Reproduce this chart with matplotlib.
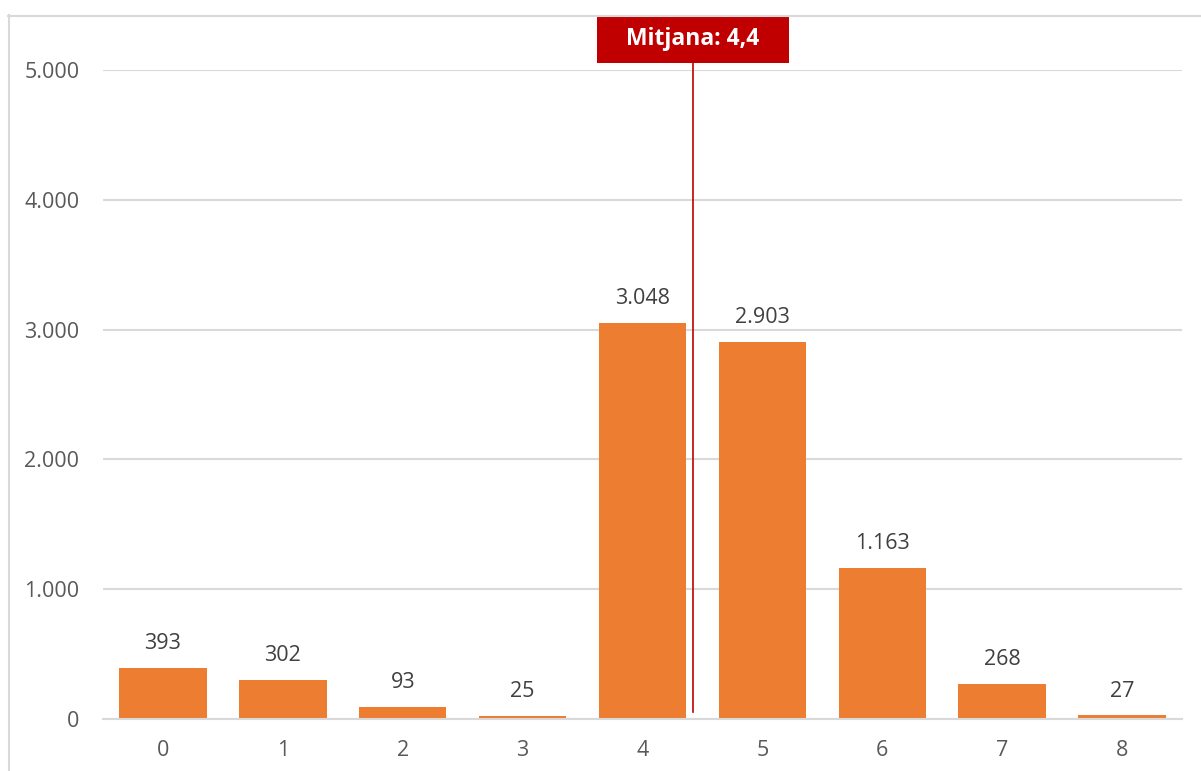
import matplotlib.pyplot as plt
from matplotlib.lines import Line2D
from matplotlib.patches import Rectangle
from matplotlib.ticker import FuncFormatter

# Distribució de respostes (escala 0-8)
categories = [0, 1, 2, 3, 4, 5, 6, 7, 8]
counts = [393, 302, 93, 25, 3048, 2903, 1163, 268, 27]

mean_value = sum(c * n for c, n in zip(categories, counts)) / sum(counts)


def fmt_thousands(v):
    return f"{int(v):,}".replace(",", ".")


plt.rcParams['font.family'] = ['Open Sans', 'DejaVu Sans']

W, H = 1201, 771
fig = plt.figure(figsize=(W / 100, H / 100), dpi=100)
ax = fig.add_axes([103 / W, 1 - 719 / H, (1182 - 103) / W, (719 - 70) / H])

bar_color = '#ED7D31'
grid_color = '#D9D9D9'

ax.bar(categories, counts, width=0.73, color=bar_color, zorder=2)

for x, v in zip(categories, counts):
    ax.annotate(fmt_thousands(v), (x, v), xytext=(0, 10), textcoords='offset points',
                ha='center', va='bottom', fontsize=15.5, color='#404040')

ax.set_xlim(-0.5, 8.5)
ax.set_ylim(0, 5000)
ax.set_yticks(range(0, 5001, 1000))
ax.yaxis.set_major_formatter(FuncFormatter(lambda v, p: fmt_thousands(v)))
ax.set_xticks(categories)
ax.tick_params(axis='both', length=0, labelsize=15.5, labelcolor='#595959')
ax.tick_params(axis='y', pad=17)
ax.tick_params(axis='x', pad=15)

ax.grid(axis='y', color=grid_color, linewidth=1.5, zorder=0)
for side in ['top', 'right', 'left']:
    ax.spines[side].set_visible(False)
ax.spines['bottom'].set_color(grid_color)
ax.spines['bottom'].set_linewidth(1.5)

# línia de la mitjana amb etiqueta
mean_color = '#C00000'
ax.plot([mean_value, mean_value], [55, 5060], color=mean_color, linewidth=1.2,
        zorder=3, clip_on=False)
box_w, box_h, box_y = 1.6, 370, 5055
ax.add_patch(Rectangle((mean_value - box_w / 2, box_y), box_w, box_h,
                       facecolor=mean_color, edgecolor='none', zorder=4, clip_on=False))
label = f"Mitjana: {mean_value:.1f}".replace(".", ",")
ax.text(mean_value, box_y + box_h / 2, label, ha='center', va='center', fontsize=16.5,
        fontweight='bold', color='white', zorder=5, clip_on=False)

# vora del gràfic
fig.add_artist(Line2D([8.5 / W, 8.5 / W], [0, 1 - 15 / H], transform=fig.transFigure,
                      color=grid_color, linewidth=1.5))
fig.add_artist(Line2D([8 / W, 1], [1 - 15.5 / H, 1 - 15.5 / H], transform=fig.transFigure,
                      color=grid_color, linewidth=1.5))

fig.savefig('out.png', dpi=100)
